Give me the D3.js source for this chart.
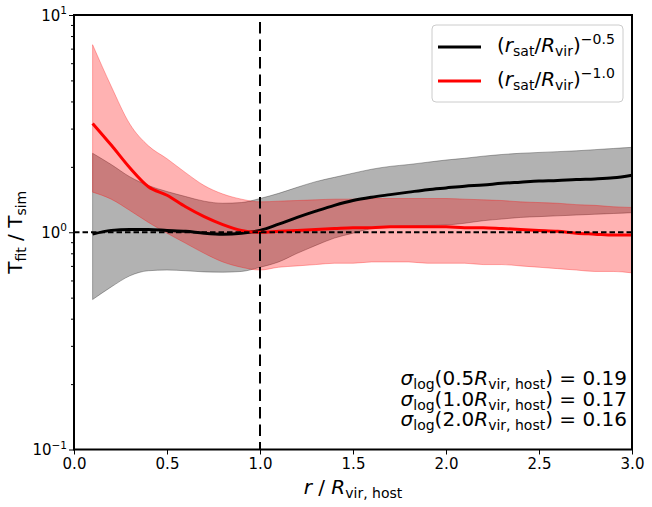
<!DOCTYPE html>
<html>
<head>
<meta charset="utf-8">
<script src="https://cdn.jsdelivr.net/npm/d3@7"></script>
<style>
  body { margin: 0; background: #ffffff; }
  #chart { width: 652px; height: 507px; }
</style>
</head>
<body>
<div id="chart"></div>
<script>
// T_fit / T_sim vs r / R_vir,host, two weightings with 1-sigma bands

var radius = [0.1, 0.2, 0.3, 0.4, 0.5, 0.6, 0.7, 0.8, 0.9, 1.0,
              1.1, 1.2, 1.3, 1.4, 1.5, 1.6, 1.7, 1.8, 1.9, 2.0,
              2.1, 2.2, 2.3, 2.4, 2.5, 2.6, 2.7, 2.8, 2.9, 3.0];

// (r_sat/R_vir)^-0.5 : median and band
var blackMid = [0.98, 1.02, 1.03, 1.03, 1.02, 1.01, 0.99, 0.98, 0.99, 1.02,
                1.09, 1.17, 1.25, 1.33, 1.40, 1.45, 1.49, 1.53, 1.57, 1.60,
                1.63, 1.65, 1.68, 1.70, 1.72, 1.73, 1.75, 1.76, 1.78, 1.83];
var blackLo = [0.49, 0.56, 0.63, 0.665, 0.67, 0.665, 0.657, 0.655, 0.66, 0.69,
               0.73, 0.80, 0.87, 0.94, 0.99, 1.04, 1.06, 1.07, 1.075, 1.08,
               1.10, 1.13, 1.15, 1.17, 1.18, 1.19, 1.20, 1.21, 1.22, 1.23];
var blackHi = [2.31, 2.05, 1.80, 1.64, 1.54, 1.46, 1.39, 1.36, 1.37, 1.43,
               1.51, 1.61, 1.71, 1.79, 1.87, 1.95, 2.01, 2.05, 2.10, 2.15,
               2.19, 2.24, 2.28, 2.31, 2.33, 2.35, 2.37, 2.40, 2.43, 2.46];

// (r_sat/R_vir)^-1.0 : median and band
var redMid = [3.17, 2.52, 1.98, 1.62, 1.48, 1.31, 1.18, 1.085, 1.02, 1.00,
              1.01, 1.02, 1.03, 1.04, 1.05, 1.05, 1.06, 1.06, 1.06, 1.06,
              1.05, 1.05, 1.04, 1.03, 1.02, 1.01, 0.99, 0.98, 0.97, 0.97];
var redLo = [1.53, 1.42, 1.26, 1.11, 0.99, 0.89, 0.80, 0.73, 0.69, 0.67,
             0.69, 0.70, 0.71, 0.72, 0.72, 0.73, 0.73, 0.73, 0.72, 0.72,
             0.72, 0.71, 0.71, 0.70, 0.69, 0.68, 0.67, 0.66, 0.66, 0.65];
var redHi = [7.30, 4.70, 3.15, 2.50, 2.18, 1.88, 1.64, 1.50, 1.42, 1.38,
             1.39, 1.40, 1.41, 1.42, 1.42, 1.43, 1.43, 1.43, 1.43, 1.43,
             1.42, 1.41, 1.40, 1.38, 1.37, 1.36, 1.34, 1.33, 1.31, 1.30];

var xTicks = [0.0, 0.5, 1.0, 1.5, 2.0, 2.5, 3.0];
var yTicks = [0.1, 1, 10];
var yTickExp = ["\u22121", "0", "1"];
var yMinorTicks = [0.2, 0.3, 0.4, 0.5, 0.6, 0.7, 0.8, 0.9, 2, 3, 4, 5, 6, 7, 8, 9];

var legendExp = ["\u22120.5", "\u22121.0"];
var sigmaRadius = ["0.5", "1.0", "2.0"];
var sigmaValue = ["0.19", "0.17", "0.16"];

(function() {

    var width = 652;
    var height = 507;

    var margin = { top: 15, right: 20, bottom: 57.5, left: 74 };
    var plotW = 632 - margin.left;
    var plotH = 449.5 - margin.top;

    var font = "DejaVu Sans, sans-serif";

    var svg = d3.select("#chart")
        .append("svg")
        .attr("width", width)
        .attr("height", height)
        .style("font-family", font);

    svg.append("rect")
        .attr("width", width)
        .attr("height", height)
        .attr("fill", "#ffffff");

    var xScale = d3.scaleLinear()
        .domain([0, 3])
        .range([margin.left, margin.left + plotW]);

    var yScale = d3.scaleLog()
        .domain([0.1, 10])
        .range([margin.top + plotH, margin.top]);

    // builds text with italic / sub / sup pieces
    function richText(sel, parts, size) {
        var shift = 0;
        parts.forEach(function(p) {
            var target = 0;
            if (p.sub) { target = size * 0.22; }
            if (p.sup) { target = -size * 0.42; }
            var ts = sel.append("tspan")
                .attr("dy", target - shift)
                .attr("font-size", (p.sub || p.sup) ? size * 0.7 + "px" : size + "px")
                .text(p.t);
            if (p.it) {
                ts.attr("font-style", "italic");
            }
            shift = target;
        });
    }

    var seriesBlack = radius.map(function(r, i) {
        return { x: r, mid: blackMid[i], lo: blackLo[i], hi: blackHi[i] };
    });
    var seriesRed = radius.map(function(r, i) {
        return { x: r, mid: redMid[i], lo: redLo[i], hi: redHi[i] };
    });

    var band = d3.area()
        .x(function(d) { return xScale(d.x); })
        .y0(function(d) { return yScale(d.lo); })
        .y1(function(d) { return yScale(d.hi); })
        .curve(d3.curveMonotoneX);

    var line = d3.line()
        .x(function(d) { return xScale(d.x); })
        .y(function(d) { return yScale(d.mid); })
        .curve(d3.curveMonotoneX);

    var plot = svg.append("g");

    // bands
    plot.append("path")
        .datum(seriesBlack)
        .attr("d", band)
        .attr("fill", "#000000")
        .attr("fill-opacity", 0.3)
        .attr("stroke", "#000000")
        .attr("stroke-opacity", 0.3)
        .attr("stroke-width", 1);

    plot.append("path")
        .datum(seriesRed)
        .attr("d", band)
        .attr("fill", "#ff0000")
        .attr("fill-opacity", 0.3)
        .attr("stroke", "#ff0000")
        .attr("stroke-opacity", 0.3)
        .attr("stroke-width", 1);

    // median lines
    plot.append("path")
        .datum(seriesBlack)
        .attr("d", line)
        .attr("fill", "none")
        .attr("stroke", "#000000")
        .attr("stroke-width", 3);

    plot.append("path")
        .datum(seriesRed)
        .attr("d", line)
        .attr("fill", "none")
        .attr("stroke", "#ff0000")
        .attr("stroke-width", 3);

    // reference lines
    plot.append("line")
        .attr("x1", xScale(0))
        .attr("x2", xScale(3))
        .attr("y1", yScale(1))
        .attr("y2", yScale(1))
        .attr("stroke", "#000000")
        .attr("stroke-width", 2)
        .attr("stroke-dasharray", "5.5,3");

    plot.append("line")
        .attr("x1", xScale(1))
        .attr("x2", xScale(1))
        .attr("y1", margin.top + 7)
        .attr("y2", margin.top + plotH)
        .attr("stroke", "#000000")
        .attr("stroke-width", 2)
        .attr("stroke-dasharray", "11.5,6");

    // x axis
    var xAxis = svg.append("g")
        .attr("transform", "translate(0," + (margin.top + plotH) + ")")
        .call(d3.axisBottom(xScale)
            .tickValues(xTicks)
            .tickFormat(d3.format(".1f"))
            .tickSize(5)
            .tickPadding(4));

    xAxis.selectAll("text")
        .attr("font-family", font)
        .attr("font-size", "15px")
        .attr("fill", "#000000");

    // y axis, major
    var yAxis = svg.append("g")
        .attr("transform", "translate(" + margin.left + ",0)")
        .call(d3.axisLeft(yScale)
            .tickValues(yTicks)
            .tickFormat("")
            .tickSize(5));

    // y axis, minor
    svg.append("g")
        .attr("transform", "translate(" + margin.left + ",0)")
        .call(d3.axisLeft(yScale)
            .tickValues(yMinorTicks)
            .tickFormat("")
            .tickSize(3));

    svg.selectAll(".domain").remove();
    svg.selectAll(".tick line")
        .attr("stroke", "#000000")
        .attr("stroke-width", 1);

    yTicks.forEach(function(v, i) {
        var t = svg.append("text")
            .attr("x", margin.left - 7)
            .attr("y", yScale(v) + 5.5)
            .attr("text-anchor", "end")
            .attr("fill", "#000000");
        richText(t, [{ t: "10" }, { t: yTickExp[i], sup: true }], 15);
    });

    // frame
    svg.append("rect")
        .attr("x", margin.left)
        .attr("y", margin.top)
        .attr("width", plotW)
        .attr("height", plotH)
        .attr("fill", "none")
        .attr("stroke", "#000000")
        .attr("stroke-width", 2);

    // axis labels
    var xLabel = svg.append("text")
        .attr("x", xScale(1.5))
        .attr("y", 494)
        .attr("text-anchor", "middle")
        .attr("fill", "#000000");
    richText(xLabel, [
        { t: "r", it: true }, { t: " / " }, { t: "R", it: true },
        { t: "vir, host", sub: true }
    ], 20);

    var yLabel = svg.append("text")
        .attr("transform", "translate(22," + yScale(1) + ") rotate(-90)")
        .attr("text-anchor", "middle")
        .attr("fill", "#000000");
    richText(yLabel, [
        { t: "T" }, { t: "fit", sub: true }, { t: " / T" }, { t: "sim", sub: true }
    ], 20);

    // legend
    var legend = svg.append("g")
        .attr("transform", "translate(432,25)");

    legend.append("rect")
        .attr("width", 191)
        .attr("height", 77)
        .attr("rx", 4)
        .attr("fill", "#ffffff")
        .attr("fill-opacity", 0.8)
        .attr("stroke", "#cccccc")
        .attr("stroke-width", 1);

    var legendColors = ["#000000", "#ff0000"];

    legendColors.forEach(function(c, i) {
        var yRow = 22 + i * 34;

        legend.append("line")
            .attr("x1", 6)
            .attr("x2", 49)
            .attr("y1", yRow)
            .attr("y2", yRow)
            .attr("stroke", c)
            .attr("stroke-width", 3);

        var t = legend.append("text")
            .attr("x", 65)
            .attr("y", yRow + 5)
            .attr("fill", "#000000");
        richText(t, [
            { t: "(" }, { t: "r", it: true }, { t: "sat", sub: true },
            { t: "/" }, { t: "R", it: true }, { t: "vir", sub: true },
            { t: ")" }, { t: legendExp[i], sup: true }
        ], 20);
    });

    // scatter annotation
    sigmaRadius.forEach(function(r, i) {
        var t = svg.append("text")
            .attr("x", 627)
            .attr("y", 385 + i * 20.5)
            .attr("text-anchor", "end")
            .attr("fill", "#000000");
        richText(t, [
            { t: "\u03c3", it: true }, { t: "log", sub: true },
            { t: "(" + r }, { t: "R", it: true }, { t: "vir, host", sub: true },
            { t: ") = " + sigmaValue[i] }
        ], 20);
    });

})();
</script>
</body>
</html>
